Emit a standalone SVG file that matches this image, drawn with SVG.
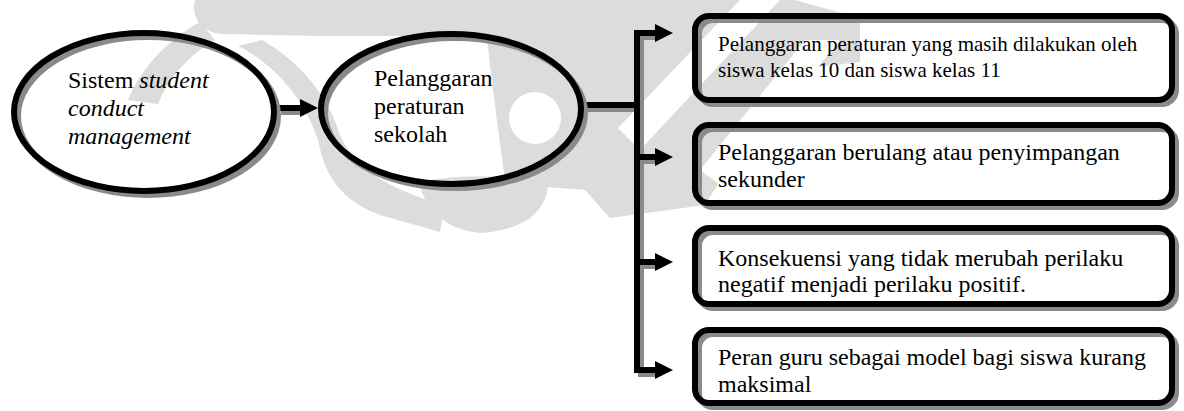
<svg xmlns="http://www.w3.org/2000/svg" width="1184" height="411" viewBox="0 0 1184 411">
<style>
.sh{fill:none;stroke:#8a8a8a;stroke-width:6}
.nd{fill:none;stroke:#000;stroke-width:6}
.ln{fill:none;stroke:#000;stroke-width:6}
.lns{fill:none;stroke:#8a8a8a;stroke-width:6}
.hd{fill:#000}
.wm{fill:#dcdcdc}
.wh{fill:#fff}
.t{font-family:"Liberation Serif","Times New Roman",serif;font-size:24px;fill:#000}
.sm{font-size:21px}
.i{font-style:italic}
</style>
<defs>
<path id="ah" d="M0,-9 L18,0 L0,9 Z"/>
</defs>
<rect width="1184" height="411" fill="#fff"/>

<g id="watermark">
  <path class="wm" d="M195,0 H620 L612,28 C520,36 360,38 230,34 C205,36 190,20 195,0 Z"/>
  <path class="wm" d="M200,22 C165,42 140,70 128,100 L158,104 C170,76 188,56 215,40 Z"/>
  <path class="wm" d="M238,46 C275,64 305,100 318,140 C325,175 340,200 380,215 L440,232 L445,205 C395,192 355,170 340,135 C328,95 300,62 262,40 Z"/>
  <path class="wm" d="M482,0 H795 L860,18 V62 L790,70 L705,205 L610,218 L585,190 C560,188 520,186 505,180 C498,130 492,80 482,0 Z"/>
  <path class="wh" d="M740,0 H780 L640,150 L618,128 Z"/>
  <path class="wh" d="M805,40 H840 L720,185 L700,170 Z"/>
  <circle class="wh" cx="535" cy="118" r="26"/>
  <path class="wm" d="M418,182 C455,174 520,174 548,186 C545,215 520,230 482,233 C450,231 428,214 418,182 Z"/>
</g>

<g id="connectors">
  <path class="lns" d="M281,112 H303"/>
  <path class="lns" d="M584,109 H641 M659,37 H641 V374 H659 M641,161 H659 M641,266 H659"/>
  <path class="ln" d="M277,108 H302"/>
  <path class="ln" d="M580,105 H637 M655,33 H637 V370 H655 M637,157 H655 M637,262 H655"/>
  <use href="#ah" class="hd" x="300" y="108"/>
  <use href="#ah" class="hd" x="655" y="33"/>
  <use href="#ah" class="hd" x="655" y="157"/>
  <use href="#ah" class="hd" x="655" y="262"/>
  <use href="#ah" class="hd" x="655" y="370"/>
</g>

<g id="node-sistem">
  <ellipse class="sh" cx="148" cy="116" rx="130" ry="79"/>
  <ellipse class="nd" cx="144" cy="112" rx="130" ry="79"/>
  <text class="t" x="68" y="88">Sistem <tspan class="i">student</tspan></text>
  <text class="t i" x="68" y="116">conduct</text>
  <text class="t i" x="68" y="144">management</text>
</g>

<g id="node-pelanggaran">
  <ellipse class="sh" cx="455" cy="113" rx="130" ry="75"/>
  <ellipse class="nd" cx="451" cy="109" rx="130" ry="75"/>
  <text class="t" x="374" y="86">Pelanggaran</text>
  <text class="t" x="374" y="114">peraturan</text>
  <text class="t" x="374" y="142">sekolah</text>
</g>

<g id="box1">
  <rect class="sh" x="699" y="20" width="477" height="84" rx="14"/>
  <rect class="nd" x="695" y="16" width="477" height="84" rx="14"/>
  <text class="t sm" x="718" y="51">Pelanggaran peraturan yang masih dilakukan oleh</text>
  <text class="t sm" x="718" y="77">siswa kelas 10 dan siswa kelas 11</text>
</g>

<g id="box2">
  <rect class="sh" x="699" y="129" width="477" height="78" rx="14"/>
  <rect class="nd" x="695" y="125" width="477" height="78" rx="14"/>
  <text class="t" x="718" y="160">Pelanggaran berulang atau penyimpangan</text>
  <text class="t" x="718" y="187">sekunder</text>
</g>

<g id="box3">
  <rect class="sh" x="699" y="232" width="477" height="76" rx="14"/>
  <rect class="nd" x="695" y="228" width="477" height="76" rx="14"/>
  <text class="t" x="718" y="266">Konsekuensi yang tidak merubah perilaku</text>
  <text class="t" x="718" y="292">negatif menjadi perilaku positif.</text>
</g>

<g id="box4">
  <rect class="sh" x="699" y="334" width="477" height="73" rx="14"/>
  <rect class="nd" x="695" y="330" width="477" height="73" rx="14"/>
  <text class="t" x="718" y="365">Peran guru sebagai model bagi siswa kurang</text>
  <text class="t" x="718" y="392">maksimal</text>
</g>
</svg>
